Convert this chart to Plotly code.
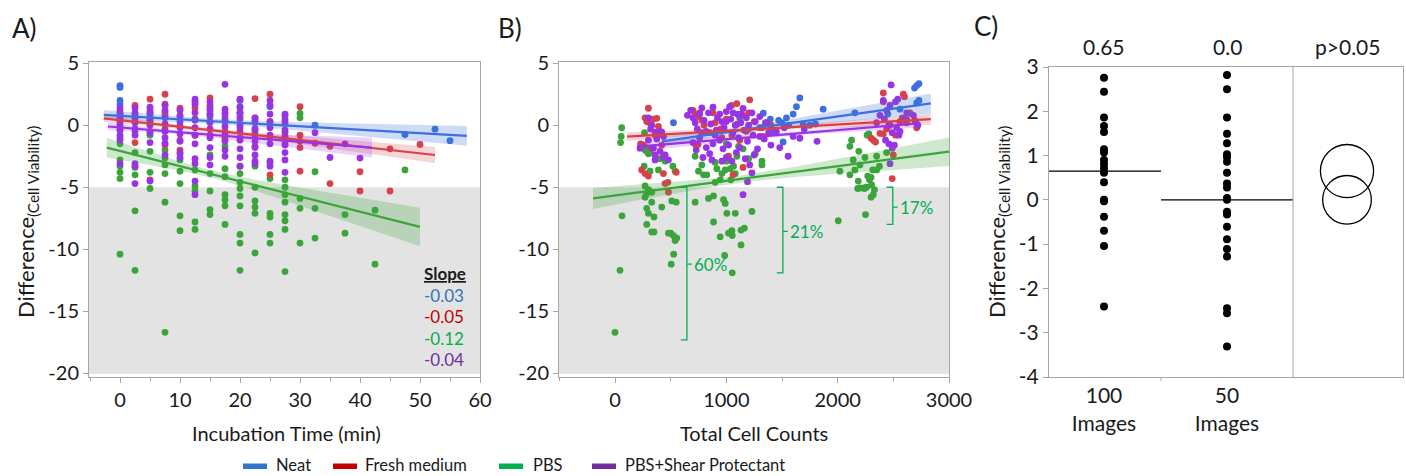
import numpy as np
import plotly.graph_objects as go

FONT = "Lato"
W, H = 1406, 476

series = ["Neat", "Fresh medium", "PBS", "PBS+Shear Protectant"]
dot_colors = ["#3d6fe0", "#d8404a", "#3ba43b", "#9a33e4"]
band_colors = ["rgba(61,111,224,0.25)", "rgba(216,64,74,0.22)", "rgba(59,164,59,0.25)", "rgba(154,51,228,0.22)"]
legend_colors = ["#2f74d0", "#c00000", "#00b050", "#7030a0"]
slope_colors = ["#2e75b6", "#c00000", "#00b050", "#7030a0"]
slope_labels = ["-0.03", "-0.05", "-0.12", "-0.04"]

# ---------------- Panel A: incubation time (min) -> difference ----------------
A_neat = [
    (0, [3.2, 3.05, 2.0, 1.7, 0.9, 0.5]), (2.5, [0.6]), (5, [1.0, 0.3]), (7.5, [0.8]),
    (12.5, [0.5]), (15, [1.2, 0.7]), (17.5, [0.6]), (20, [2.0, 1.0]), (22.5, [0.4]),
    (25, [1.5]), (27.5, [0.8]), (32.5, [0.0]), (47.5, [-0.75]), (52.5, [-0.32]), (55, [-1.24]),
]
A_fresh = [
    (0, [1.2, 0.6, 0.2, -0.3]), (2.5, [1.6, 0.9, 0.3, -1.4]), (5, [2.1, 1.2, 0.4, -0.5, -4.4]),
    (7.5, [2.5, 1.7, 1.0, -0.3, -1.6]), (10, [1.37, 0.8, 0.0, -1.2, -2.0]),
    (12.5, [1.9, 1.4, 0.5, -0.8]), (15, [2.2, 1.6, 0.9, 0.2, -0.8]), (17.5, [1.0, 0.3, -0.5, -1.1]),
    (20, [0.7, -0.2, -1.0]), (22.5, [2.15, 0.6, -0.3, -1.7]), (25, [2.5, 0.3, -1.0, -4.0]),
    (27.5, [0.3, -0.6, -1.5]), (30, [1.5, -0.8, -1.3, -1.8, -3.7]), (32.5, [-1.45]),
    (35, [-1.7, -4.7]), (40, [-3.75, -5.3]), (45, [-1.9, -5.3]), (50, [-1.55]),
]
A_pbs = [
    (0, [-1.0, -1.5, -2.8, -3.3, -3.8, -4.3, -10.4]), (2.5, [-0.5, -2.2, -3.4, -4.0, -6.9, -11.7]),
    (5, [0.8, -0.8, -2.1, -3.8, -5.1]), (7.5, [-2.0, -2.65, -3.2, -3.9, -6.2, -16.7]),
    (10, [-2.3, -2.8, -3.7, -4.7, -7.3, -8.5]), (12.5, [-3.6, -4.9, -5.3, -7.8, -8.4]),
    (15, [-2.4, -3.9, -5.3, -6.8, -7.2]), (17.5, [-0.9, -1.7, -3.5, -4.15, -5.6, -6.0, -6.5, -8.0]),
    (20, [1.4, 1.0, -3.3, -3.9, -4.6, -5.1, -5.7, -6.5, -8.8, -9.5, -11.7]),
    (22.5, [-0.5, -3.3, -5.0, -6.1, -6.6, -7.1, -10.3]), (25, [-3.0, -4.3, -7.1, -7.4, -8.8, -9.5]),
    (27.5, [-1.0, -4.4, -5.0, -5.6, -6.2, -7.2, -7.7, -8.4, -11.8]), (30, [0.95, 0.6, -5.9, -6.7, -9.5]),
    (32.5, [-3.75, -6.7, -9.1]), (37.5, [-7.2, -8.7]), (42.5, [-6.85, -11.2]), (47.5, [-3.6]),
]
A_shear = [
    (0, [1.4, 1.0, 0.8, 0.4, 0.0, -0.4, -0.8, -1.2, -3.1]),
    (2.5, [1.4, 1.0, 0.6, 0.2, -0.3, -0.8, -3.1, -3.3, -4.7]),
    (5, [1.45, 1.0, 0.5, 0.0, -0.6, -1.4, -4.5]),
    (7.5, [1.6, 1.2, 0.6, 0.1, -0.5, -1.0, -1.45, -2.4]),
    (10, [1.2, 0.7, 0.3, -0.2, -0.7, -1.3, -2.2, -2.6]),
    (12.5, [2.1, 1.7, 1.0, 0.4, -0.2, -0.8, -1.5, -2.7, -3.1, -4.5, -5.6]),
    (15, [1.9, 1.4, 0.9, 0.3, -0.3, -1.0, -1.8, -2.6, -3.2]),
    (17.5, [3.3, 1.3, 0.9, 0.4, -0.1, -0.7, -1.3, -2.0, -2.5]),
    (20, [2.1, 1.5, 1.0, 0.5, 0.0, -0.5, -1.2, -1.9, -2.6, -3.3]),
    (22.5, [0.6, 0.2, -0.3, -0.8, -1.3, -1.8, -2.4, -2.9, -3.1]),
    (25, [2.0, 1.6, 0.9, 0.3, -0.2, -0.8, -1.5, -2.9, -3.3]),
    (27.5, [0.9, 0.5, 0.1, -0.4, -0.9, -1.6, -2.2, -2.8, -3.8]),
    (32.5, [-0.6]), (35, [-2.6]), (37.5, [-1.5]), (40, [-2.65]),
]
# fitted lines: x start/end, y start/end, CI half-width left/min/right
A_fit_x0 = [-2.7, -2.7, -2.2, -2.0]
A_fit_x1 = [57.8, 52.5, 50.0, 42.0]
A_fit_y0 = [0.83, 0.56, -1.8, -0.1]
A_fit_y1 = [-0.86, -2.4, -8.2, -1.8]
A_fit_hw = [(0.4, 0.2, 0.8), (0.3, 0.15, 0.65), (0.8, 0.3, 1.55), (0.3, 0.15, 0.8)]

# ---------------- Panel B: total cell counts -> difference ----------------
B_neat = [(525, 0.2), (1332, 0.97), (1395, 0.5), (1660, 2.2), (1630, 1.5), (1600, 0.9), (1870, 1.3),
          (2155, 1.0), (1750, 0.0), (1690, 0.1), (1500, 0.2), (1470, 0.4), (1540, 0.6), (1560, 0.0),
          (1510, -1.35), (1200, -0.3), (1350, 0.2), (1120, 0.6), (1420, -0.5), (1800, 0.1),
          (2710, 3.2), (2730, 3.35), (2690, 3.0), (2710, 1.8), (2730, 2.0), (2560, 1.3), (2620, 0.5), (2450, 0.9)]
B_fresh = [(300, 1.37), (292, 0.43), (315, 0.16), (375, 0.56), (390, -0.1), (360, -0.8), (255, -1.6),
           (330, -1.85), (420, -1.6), (240, -3.6), (270, -3.9), (300, -4.1), (435, -3.9), (475, -4.6),
           (550, -3.8), (450, -4.7), (285, 0.3), (345, 0.5), (230, -1.5), (270, 0.6), (480, -5.4),
           (700, 1.2), (720, 0.9), (745, 0.7), (760, 1.0), (780, 0.4), (745, -1.55), (726, -1.6),
           (1047, 1.6), (1095, 1.75), (1210, 2.05), (1150, 0.8), (900, 0.2), (950, -0.3), (1000, 0.5),
           (1050, -0.8), (1100, 0.1), (1180, -0.5), (1250, 0.3), (1300, -0.2), (850, -0.6), (800, 0.0),
           (1020, -2.5), (1120, -1.2), (1150, -3.4), (1060, -4.0), (960, -1.0), (880, 1.0), (1400, 0.0),
           (1330, -0.9), (1200, 1.0),
           (2410, 2.6), (2590, 2.5), (2600, 2.3), (2410, 1.9), (2693, 0.4), (2710, -0.2), (2380, -0.65),
           (2410, -0.7), (2440, -0.3), (2300, -1.05), (2320, -1.2), (2340, -1.35), (2500, -2.4),
           (2490, -4.3), (2560, 0.3), (2620, 0.2), (2580, 0.6), (2650, 1.0), (2470, 0.0), (2520, -0.8)]
B_pbs = [(60, -0.2), (55, -0.9), (50, -1.4), (63, -7.3), (45, -11.7), (0, -16.7), (265, -0.6),
         (285, -2.1), (262, -3.3), (315, -3.7), (285, -5.5), (270, -5.8), (330, -5.4), (390, -3.6),
         (405, -2.7), (450, -2.9), (520, -3.3), (540, -3.7), (510, -6.1), (550, -6.2), (420, -6.6),
         (330, -6.2), (285, -6.7), (300, -7.1), (350, -7.4), (285, -8.0), (330, -8.6), (480, -8.7),
         (525, -8.9), (555, -9.1), (350, -8.6), (500, -8.7), (540, -9.3), (527, -10.4), (505, -11.2),
         (270, -2.0), (300, -2.3), (315, -2.2), (280, -1.8), (300, -5.2), (270, -4.9),
         (720, -2.5), (780, -3.2), (750, -3.7), (795, -4.0), (825, -4.0), (900, -3.0), (915, -3.5),
         (960, -3.9), (990, -3.6), (1035, -3.5), (1065, -3.3), (1095, -2.5), (1110, -1.7), (1260, -2.3),
         (1320, -2.9), (900, -4.6), (945, -4.4), (720, -6.2), (840, -5.9), (885, -5.7), (975, -6.0),
         (990, -6.3), (885, -7.8), (1005, -7.1), (1080, -7.1), (1230, -6.95), (1050, -8.5), (1020, -8.7),
         (945, -9.0), (1053, -8.9), (985, -10.5), (1053, -11.9), (1132, -9.65), (1132, -8.45),
         (1162, -8.3), (1000, -2.9), (1040, -4.4), (1150, -1.9), (1200, -2.7), (1320, -3.2),
         (1000, -1.5), (1080, -3.9),
         (2125, -1.2), (2110, -1.7), (2190, -2.1), (2265, -0.8), (2280, -0.7), (2140, -2.8), (2245, -2.6),
         (2350, -2.5), (2440, -2.2), (2020, -3.7), (2155, -3.6), (2200, -3.2), (2110, -4.0), (2185, -4.5),
         (2270, -4.1), (2285, -4.4), (2300, -4.2), (2315, -3.6), (2375, -3.3), (2305, -4.8), (2200, -5.05),
         (2230, -5.05), (2260, -5.0), (2330, -5.2), (2350, -3.6), (2300, -5.8), (2320, -5.6), (2250, -7.2),
         (2005, -7.7), (2240, -5.1), (2180, -5.1)]
B_shear = [(330, 0.0), (360, -0.55), (390, -0.7), (420, -0.55), (300, -1.2), (345, -1.85), (360, -2.4),
           (435, -2.55), (405, -0.5), (435, -0.9), (375, -1.1), (405, -2.1), (450, -2.4), (480, -2.8),
           (360, -2.8), (225, -1.85), (300, 0.6), (320, -0.3),
           (650, 0.8), (680, 1.2), (700, 0.6), (720, 0.2), (740, -0.3), (760, 0.9), (780, 1.4), (800, 0.4),
           (820, -0.5), (840, 1.0), (860, 0.1), (880, 1.45), (900, -0.8), (920, 0.6), (940, -1.2),
           (960, 0.3), (980, -0.2), (1000, 1.1), (1020, -1.6), (1030, 1.5), (1040, 0.5), (1060, -0.6),
           (1080, 0.0), (1090, -2.2), (1100, 0.9), (1110, -1.0), (1130, 0.2), (1150, 1.35), (1160, -0.4),
           (1170, -2.7), (1180, 0.6), (1190, -1.3), (1200, 0.0), (1210, -3.2), (1230, 1.0), (1240, -0.8),
           (1260, 0.3), (1280, -1.9), (1300, 0.7), (1320, -0.2), (1340, -1.1), (1360, 0.2), (1380, -0.6),
           (1400, -1.6), (1190, -4.55), (1230, -3.85), (1150, -5.6), (700, -1.4), (730, -2.0), (760, -1.0),
           (790, -2.6), (820, -1.8), (850, -2.3), (880, -1.5), (910, -0.4), (940, 0.9), (970, -1.9),
           (1000, -2.6), (1050, -2.9), (1120, -1.8), (1250, -2.4), (960, -2.9), (870, -2.8), (780, -0.6),
           (1060, 1.0), (1000, 0.3), (1130, 0.9), (1300, -0.9),
           (1815, -1.3), (1660, -1.05), (1555, -2.5), (1480, -1.8), (1450, -0.5), (1700, -0.3),
           (1600, -0.9), (1520, -0.2),
           (2480, 3.25), (2410, 2.0), (2540, 2.1), (2470, 1.6), (2520, 1.9), (2420, 0.5), (2460, 0.0),
           (2490, -0.6), (2530, -0.2), (2550, -0.8), (2430, -1.2), (2460, -1.5), (2510, -1.6), (2470, -3.1),
           (2490, -1.85), (2700, 0.3), (2720, 0.0), (2680, 0.8), (2380, 0.8), (2350, 0.2), (2590, 0.5),
           (2620, 1.0), (2440, 1.2), (2560, -0.5)]
B_fit_x0 = [422, 108, -197, 200]
B_fit_x1 = [2837, 2837, 3000, 2740]
B_fit_y0 = [-1.3, -0.92, -5.9, -1.72]
B_fit_y1 = [1.77, 0.5, -2.13, 0.16]
B_fit_hw = [(0.4, 0.25, 0.8), (0.35, 0.15, 0.45), (0.85, 0.3, 1.15), (0.4, 0.15, 0.35)]

# brackets (PBS fraction below -5)
br_x = [646, 1508, 2495]
br_top = [-5, -5, -5]
br_bot = [-17.3, -11.9, -8.0]
br_mid = [-11.2, -8.55, -6.6]
br_labels = ["60%", "21%", "17%"]

# ---------------- Panel C ----------------
C_groups = ["100<br>Images", "50<br>Images"]
C_100 = [2.76, 2.44, 1.86, 1.67, 1.53, 1.14, 1.07, 0.9, 0.81, 0.71, 0.61, 0.40, 0.0, -0.03,
         -0.38, -0.70, -1.04, -2.41]
C_50 = [2.82, 2.50, 1.86, 1.49, 1.28, 1.03, 0.97, 0.86, 0.61, 0.37, 0.28, 0.04, 0.0, -0.27, -0.33,
        -0.61, -0.89, -1.11, -1.28, -2.45, -2.56, -3.31]
C_means = [0.65, 0.0]
C_mean_labels = ["0.65", "0.0"]
C_circle_r = [0.6, 0.55]
C_p_label = "p>0.05"

# ================= layout geometry =================
def px_x(p):
    return p / W


def px_y(p):
    return 1 - p / H


dom_xA = [px_x(89), px_x(480)]
dom_xB = [px_x(559), px_x(949)]
dom_xC = [px_x(1049), px_x(1403)]
dom_yAB = [px_y(377), px_y(62)]
dom_yC = [px_y(377), px_y(67)]

fig = go.Figure()


def band_poly(x0, x1, y0, y1, hw):
    L, m, R = hw
    r = np.sqrt((L ** 2 - m ** 2) / (R ** 2 - m ** 2))
    xm = (x0 + r * x1) / (1 + r)
    k = (R ** 2 - m ** 2) / (x1 - xm) ** 2
    xs = np.linspace(x0, x1, 60)
    ys = y0 + (y1 - y0) * (xs - x0) / (x1 - x0)
    h = np.sqrt(m ** 2 + k * (xs - xm) ** 2)
    return xs, ys, h


draw_order = [2, 0, 1, 3]

A_sets = [A_neat, A_fresh, A_pbs, A_shear]
for i in draw_order:
    xs, ys = [], []
    for t, vals in A_sets[i]:
        xs += [t] * len(vals)
        ys += vals
    fig.add_trace(go.Scatter(x=xs, y=ys, mode="markers", xaxis="x", yaxis="y",
                             marker=dict(size=6.8, color=dot_colors[i]), showlegend=False, hoverinfo="skip"))
B_sets = [B_neat, B_fresh, B_pbs, B_shear]
for i in draw_order:
    xs = [p[0] for p in B_sets[i]]
    ys = [p[1] for p in B_sets[i]]
    fig.add_trace(go.Scatter(x=xs, y=ys, mode="markers", xaxis="x2", yaxis="y2",
                             marker=dict(size=6.8, color=dot_colors[i]), showlegend=False, hoverinfo="skip"))

for (ax, ay, X0, X1, Y0, Y1, HW) in [("x", "y", A_fit_x0, A_fit_x1, A_fit_y0, A_fit_y1, A_fit_hw),
                                     ("x2", "y2", B_fit_x0, B_fit_x1, B_fit_y0, B_fit_y1, B_fit_hw)]:
    for i in range(4):
        xs, ys, h = band_poly(X0[i], X1[i], Y0[i], Y1[i], HW[i])
        fig.add_trace(go.Scatter(x=np.concatenate([xs, xs[::-1]]), y=np.concatenate([ys + h, (ys - h)[::-1]]),
                                 fill="toself", fillcolor=band_colors[i], line=dict(width=0),
                                 mode="lines", xaxis=ax, yaxis=ay, showlegend=False, hoverinfo="skip"))
    for i in range(4):
        fig.add_trace(go.Scatter(x=[X0[i], X1[i]], y=[Y0[i], Y1[i]], mode="lines", xaxis=ax, yaxis=ay,
                                 line=dict(color=dot_colors[i], width=2.2), showlegend=False, hoverinfo="skip"))

C_x = [55, 178]
C_mean_span = [(0, 112), (112, 244)]
for j, vals in enumerate([C_100, C_50]):
    fig.add_trace(go.Scatter(x=[C_x[j]] * len(vals), y=vals, mode="markers", xaxis="x3", yaxis="y3",
                             marker=dict(size=8, color="black"), showlegend=False, hoverinfo="skip"))
    fig.add_trace(go.Scatter(x=list(C_mean_span[j]), y=[C_means[j]] * 2, mode="lines", xaxis="x3", yaxis="y3",
                             line=dict(color="black", width=1.3), showlegend=False, hoverinfo="skip"))

shapes = []
for xr, yr in [("x domain", "y"), ("x2 domain", "y2")]:
    shapes.append(dict(type="rect", xref=xr, yref=yr, x0=0, x1=1, y0=-20.05, y1=-5,
                       fillcolor="#e3e3e3", line=dict(width=0), layer="below"))
stub = 55
for bx, bt, bb, bm in zip(br_x, br_top, br_bot, br_mid):
    path = (f"M {bx - stub},{bt} L {bx},{bt} L {bx},{bb} L {bx - stub},{bb} "
            f"M {bx},{bm} L {bx + stub * 0.8},{bm}")
    shapes.append(dict(type="path", xref="x2", yref="y2", path=path, line=dict(color="#00b050", width=1.3)))
shapes.append(dict(type="line", xref="x3", yref="y3 domain", x0=244, x1=244, y0=0, y1=1,
                   line=dict(color="#a6a6a6", width=1)))
shapes.append(dict(type="line", xref="x3", yref="y3 domain", x0=112, x1=112, y0=0, y1=-0.012,
                   line=dict(color="#a6a6a6", width=1)))
PX_PER_Y = (377 - 67) / 7.0
for m, r in zip(C_means, C_circle_r):
    rx = r * PX_PER_Y
    shapes.append(dict(type="circle", xref="x3", yref="y3", x0=298 - rx, x1=298 + rx, y0=m - r, y1=m + r,
                       line=dict(color="black", width=1.3)))
legend_bar_x = [243, 333, 499, 592]
legend_text_x = [274, 363, 531, 623]
for i in range(4):
    shapes.append(dict(type="rect", xref="paper", yref="paper", x0=px_x(legend_bar_x[i]),
                       x1=px_x(legend_bar_x[i] + 24), y0=px_y(469), y1=px_y(463.5),
                       fillcolor=legend_colors[i], line=dict(width=0)))

ann = []


def text(x, y, s, size, color="#1a1a1a", xanchor="center", **kw):
    ann.append(dict(x=px_x(x), y=px_y(y), xref="paper", yref="paper", text=s, showarrow=False,
                    font=dict(family=FONT, size=size, color=color), xanchor=xanchor, yanchor="middle", **kw))


text(24, 28, "A)", 26)
text(510, 28, "B)", 26)
text(986, 26, "C)", 26)
text(286, 433, "Incubation Time (min)", 20)
text(754, 433, "Total Cell Counts", 20)
text(27, 222, "Difference<sub>(Cell Viability)</sub>", 22, textangle=-90)
text(998, 222, "Difference<sub>(Cell Viability)</sub>", 22, textangle=-90)
text(1104, 47, C_mean_labels[0], 21)
text(1227, 47, C_mean_labels[1], 21)
text(1347, 47, C_p_label, 21)
text(445, 273, "<b><u>Slope</u></b>", 17)
for i, yy in enumerate([295, 316.5, 338, 359.5]):
    text(466, yy, slope_labels[i], 17, color=slope_colors[i], xanchor="right")
for bx, bm, lab in zip(br_x, br_mid, br_labels):
    ann.append(dict(x=bx + stub * 0.8, y=bm, xref="x2", yref="y2", text=lab, showarrow=False,
                    font=dict(family=FONT, size=17, color="#00b050"), xanchor="left", yanchor="middle"))
for i in range(4):
    text(legend_text_x[i], 465, series[i], 16.5, xanchor="left")

axis_common = dict(showgrid=False, zeroline=False, showline=True, linecolor="#a6a6a6", linewidth=1,
                   mirror=True, ticks="outside", ticklen=5, tickcolor="#a6a6a6", automargin=False,
                   tickfont=dict(family=FONT, size=20, color="#1a1a1a"))

yticks_AB = [5, 0, -5, -10, -15, -20]
yticks_C = [3, 2, 1, 0, -1, -2, -3, -4]

fig.update_layout(
    width=W, height=H, margin=dict(l=0, r=0, t=0, b=0, pad=0, autoexpand=False),
    paper_bgcolor="white", plot_bgcolor="white",
    xaxis=dict(domain=dom_xA, range=[-5.17, 60], tickvals=[0, 10, 20, 30, 40, 50, 60],
               minor=dict(ticks="outside", ticklen=3, dtick=5, tickcolor="#a6a6a6"), anchor="y", **axis_common),
    yaxis=dict(domain=dom_yAB, range=[-20.3, 5.1], tickvals=yticks_AB, ticktext=[str(v) for v in yticks_AB],
               anchor="x", **axis_common),
    xaxis2=dict(domain=dom_xB, range=[-503, 3000], tickvals=[0, 1000, 2000, 3000],
                minor=dict(ticks="outside", ticklen=3, dtick=500, tickcolor="#a6a6a6"), anchor="y2", **axis_common),
    yaxis2=dict(domain=dom_yAB, range=[-20.3, 5.1], tickvals=yticks_AB, ticktext=[str(v) for v in yticks_AB],
                anchor="x2", **axis_common),
    xaxis3=dict(domain=dom_xC, range=[0, 354], tickvals=C_x, ticktext=C_groups, anchor="y3",
                **{**axis_common, "ticks": "", "tickfont": dict(family=FONT, size=21, color="#1a1a1a")}),
    yaxis3=dict(domain=dom_yC, range=[-4, 3], tickvals=yticks_C, ticktext=[str(v) for v in yticks_C],
                anchor="x3", **{**axis_common, "tickfont": dict(family=FONT, size=21, color="#1a1a1a")}),
    shapes=shapes, annotations=ann, showlegend=False,
)

fig.write_html("out.html")
